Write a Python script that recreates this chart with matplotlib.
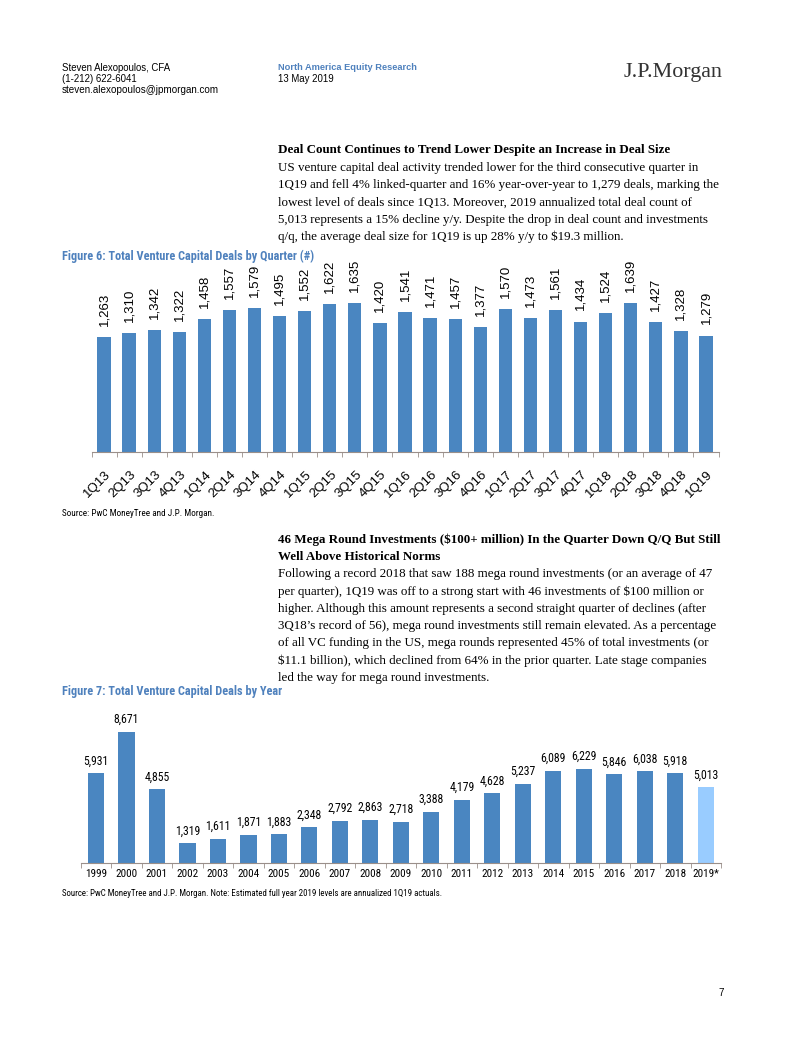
import matplotlib.pyplot as plt
from matplotlib import font_manager
from matplotlib.font_manager import FontProperties
from matplotlib.transforms import ScaledTranslation
import numpy as np

quarters = ['1Q13', '2Q13', '3Q13', '4Q13', '1Q14', '2Q14', '3Q14', '4Q14',
            '1Q15', '2Q15', '3Q15', '4Q15', '1Q16', '2Q16', '3Q16', '4Q16',
            '1Q17', '2Q17', '3Q17', '4Q17', '1Q18', '2Q18', '3Q18', '4Q18', '1Q19']
quarter_deals = [1263, 1310, 1342, 1322, 1458, 1557, 1579, 1495, 1552, 1622,
                 1635, 1420, 1541, 1471, 1457, 1377, 1570, 1473, 1561, 1434,
                 1524, 1639, 1427, 1328, 1279]

years = ['1999', '2000', '2001', '2002', '2003', '2004', '2005', '2006', '2007',
         '2008', '2009', '2010', '2011', '2012', '2013', '2014', '2015', '2016',
         '2017', '2018', '2019*']
year_deals = [5931, 8671, 4855, 1319, 1611, 1871, 1883, 2348, 2792, 2863, 2718,
              3388, 4179, 4628, 5237, 6089, 6229, 5846, 6038, 5918, 5013]

W, H = 802, 1037
BLUE = '#4A86C1'
LIGHT = '#99CCFF'
TITLE_BLUE = '#4F81BD'
TICK = '#9A8F8A'
BODY = 9.37

plt.rcParams['font.family'] = ['Liberation Sans', 'DejaVu Sans']
SERIF = ['Liberation Serif', 'DejaVu Serif']


def _weight(f):
    w = f.weight
    if isinstance(w, str):
        return 700 if 'bold' in w else 400
    return int(w)


def narrow_font(bold=False):
    # look for an Arial Narrow-like face; fall back to regular sans
    prefs = ['Liberation Sans Narrow', 'Arial Narrow', 'Roboto Condensed',
             'Noto Sans', 'Open Sans', 'DejaVu Sans']
    want = 700 if bold else 400
    for fam in prefs:
        hits = [f for f in font_manager.fontManager.ttflist
                if f.name == fam and f.style == 'normal'
                and (str(f.stretch) in ('condensed', 'semi-condensed') or 'Narrow' in fam or 'Condensed' in fam)]
        if hits:
            best = min(hits, key=lambda f: abs(_weight(f) - want))
            return best.fname, True
    return None, False


NARROW_R, OK_R = narrow_font(False)
NARROW_B, OK_B = narrow_font(True)


def nprop(size, bold=False):
    path, ok = (NARROW_B, OK_B) if bold else (NARROW_R, OK_R)
    if ok:
        return FontProperties(fname=path, size=size)
    return FontProperties(family='Liberation Sans', size=size * 0.84,
                          weight='bold' if bold else 'normal')


fig = plt.figure(figsize=(W / 100, H / 100), dpi=100)


def txt(x, y, s, **kw):
    fig.text(x / W, 1 - y / H, s, va='center', **kw)


def box(left, right, bottom, top):
    return [left / W, 1 - bottom / H, (right - left) / W, (bottom - top) / H]


# header
txt(62, 68, 'Steven Alexopoulos, CFA', fontsize=6.9)
txt(62, 79, '(1-212) 622-6041', fontsize=6.9)
txt(62, 90, 'steven.alexopoulos@jpmorgan.com', fontsize=7.1)
txt(278, 68, 'North America Equity Research', fontsize=6.7, color=TITLE_BLUE, weight='bold')
txt(278, 79, '13 May 2019', fontsize=6.9)
txt(722, 72, 'J.P.Morgan', fontsize=15.8, family=SERIF, color='#333333', ha='right')

# section 1 text
txt(278, 150, 'Deal Count Continues to Trend Lower Despite an Increase in Deal Size',
    fontsize=BODY, family=SERIF, weight='bold')
body1 = ['US venture capital deal activity trended lower for the third consecutive quarter in',
         '1Q19 and fell 4% linked-quarter and 16% year-over-year to 1,279 deals, marking the',
         'lowest level of deals since 1Q13. Moreover, 2019 annualized total deal count of',
         '5,013 represents a 15% decline y/y. Despite the drop in deal count and investments',
         'q/q, the average deal size for 1Q19 is up 28% y/y to $19.3 million.']
for i, line in enumerate(body1):
    txt(278, 168 + i * 17.3, line, fontsize=BODY, family=SERIF)

txt(62, 256, 'Figure 6: Total Venture Capital Deals by Quarter (#)', fontproperties=nprop(8.8, True),
    color=TITLE_BLUE)
txt(62, 513, 'Source: PwC MoneyTree and J.P. Morgan.', fontproperties=nprop(6.6))

# figure 6
ax1 = fig.add_axes(box(91.5, 718.5, 452, 270))
x = np.arange(len(quarters))
bars = ax1.bar(x, quarter_deals, width=0.53, color=BLUE)
for b, v in zip(bars, quarter_deals):
    ax1.annotate(f'{v:,}', (b.get_x() + b.get_width() / 2, v), xytext=(0, 8),
                 textcoords='offset points', rotation=90, ha='center', va='bottom', fontsize=9.5)
ax1.set_xlim(-0.5, len(quarters) - 0.5)
ax1.set_ylim(0, 2000)
ax1.set_yticks([])
ax1.set_xticks(x, quarters, rotation=45, ha='right', va='center', rotation_mode='anchor', fontsize=9.5)
ax1.set_xticks(np.arange(len(quarters) + 1) - 0.5, minor=True)
ax1.tick_params(axis='x', which='major', length=0, pad=15)
ax1.tick_params(axis='x', which='minor', length=3.5, color=TICK)
# nudge the slanted quarter labels right (after tick_params, which resets transforms)
shift = ScaledTranslation(5 / 100, 0, fig.dpi_scale_trans)
for lab in ax1.get_xticklabels():
    lab.set_transform(lab.get_transform() + shift)
for s in ['top', 'left', 'right']:
    ax1.spines[s].set_visible(False)
ax1.spines['bottom'].set_color(TICK)

# section 2 text
txt(278, 540, '46 Mega Round Investments ($100+ million) In the Quarter Down Q/Q But Still',
    fontsize=BODY, family=SERIF, weight='bold')
txt(278, 557, 'Well Above Historical Norms', fontsize=BODY, family=SERIF, weight='bold')
body2 = ['Following a record 2018 that saw 188 mega round investments (or an average of 47',
         'per quarter), 1Q19 was off to a strong start with 46 investments of $100 million or',
         'higher. Although this amount represents a second straight quarter of declines (after',
         '3Q18\u2019s record of 56), mega round investments still remain elevated. As a percentage',
         'of all VC funding in the US, mega rounds represented 45% of total investments (or',
         '$11.1 billion), which declined from 64% in the prior quarter. Late stage companies',
         'led the way for mega round investments.']
for i, line in enumerate(body2):
    txt(278, 574 + i * 17.3, line, fontsize=BODY, family=SERIF)

txt(62, 691, 'Figure 7: Total Venture Capital Deals by Year', fontproperties=nprop(8.8, True),
    color=TITLE_BLUE)
txt(62, 893, 'Source: PwC MoneyTree and J.P. Morgan. Note: Estimated full year 2019 levels are annualized 1Q19 actuals.',
    fontproperties=nprop(6.4))

# figure 7
ax2 = fig.add_axes(box(80.75, 721, 863, 719))
x2 = np.arange(len(years))
colors = [BLUE] * (len(years) - 1) + [LIGHT]
bars2 = ax2.bar(x2, year_deals, width=0.53, color=colors)
for b, v in zip(bars2, year_deals):
    ax2.annotate(f'{v:,}', (b.get_x() + b.get_width() / 2, v), xytext=(0, 4),
                 textcoords='offset points', ha='center', va='bottom',
                 fontproperties=nprop(8.5))
ax2.set_xlim(-0.5, len(years) - 0.5)
ax2.set_ylim(0, 9500)
ax2.set_yticks([])
ax2.set_xticks(x2, years)
for lab in ax2.get_xticklabels():
    lab.set_fontproperties(nprop(8))
ax2.set_xticks(np.arange(len(years) + 1) - 0.5, minor=True)
ax2.tick_params(axis='x', which='major', length=0, pad=4)
ax2.tick_params(axis='x', which='minor', length=3.5, color=TICK)
for s in ['top', 'left', 'right']:
    ax2.spines[s].set_visible(False)
ax2.spines['bottom'].set_color(TICK)

txt(718, 993, '7', fontsize=7)

fig.savefig('out.png', dpi=100)
